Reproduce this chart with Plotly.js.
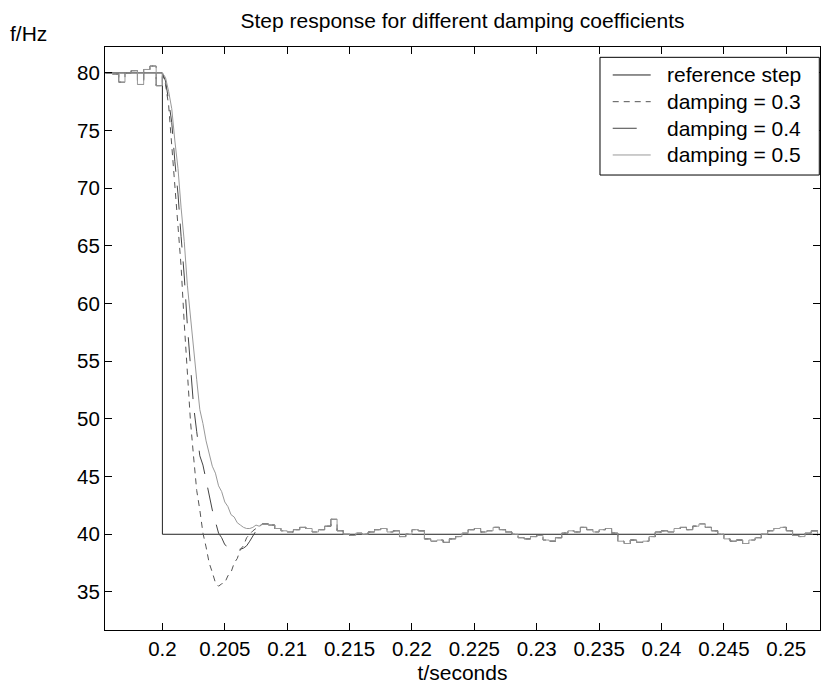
<!DOCTYPE html>
<html>
<head>
<meta charset="utf-8">
<script src="https://cdn.plot.ly/plotly-3.0.1.min.js"></script>
<style>
  html, body { margin: 0; padding: 0; background: #fff; }
  #chart { width: 821px; height: 690px; }
</style>
</head>
<body>
<div id="chart"></div>
<script>
// Reference step: 80 Hz until t = 0.2 s, then 40 Hz
const refT = [0.1954, 0.2, 0.2, 0.2527];
const refF = [80, 80, 40, 40];

// Frequency before the step, sampled every 0.5 ms from t = 0.1955 s
const preT0 = 0.1955, preDt = 0.0005;
const preF = [80.0, 79.9, 79.2, 80.0, 80.2, 79.0, 80.3, 80.6, 78.9, 80.0];

// Transient after the step, sampled every 0.25 ms from t = 0.2 s
const stepT0 = 0.2, stepDt = 0.00025;
const f03 = [80.0, 79.0, 77.2, 73.8, 70.7, 66.8, 63.2, 58.3, 54.2, 49.8, 46.7, 43.8, 42.1,
             40.1, 38.9, 37.5, 36.7, 35.8, 35.5, 35.7, 35.8, 36.4, 36.7, 37.5, 37.9, 38.7,
             39.0, 39.7, 40.0, 40.3, 40.5, 40.6, 40.9];
const f04 = [80.0, 79.3, 77.6, 75.7, 72.3, 69.5, 65.8, 62.4, 58.1, 54.8, 51.1, 48.9, 46.8,
             46.0, 44.6, 43.5, 42.1, 41.1, 40.1, 39.7, 39.1, 38.9, 38.8, 38.7, 38.7, 38.7,
             38.8, 39.0, 39.4, 39.9, 40.3, 40.5, 40.9];
const f05 = [80.0, 79.6, 78.4, 76.9, 74.1, 71.7, 68.3, 65.4, 61.6, 58.7, 55.6, 53.4, 50.8,
             49.6, 48.1, 47.1, 45.9, 45.3, 44.2, 43.7, 42.8, 42.4, 41.7, 41.5, 41.0, 40.8,
             40.6, 40.5, 40.5, 40.6, 40.8, 40.7, 40.9];

// Settled response, sampled every 0.5 ms from t = 0.208 s (same for all damping values)
const settleT0 = 0.208, settleDt = 0.0005;
const settleF = [40.9, 40.8, 40.5, 40.3, 40.2, 40.4, 40.6, 40.5, 40.2, 40.4,
                 40.7, 41.3, 40.3, 40.0, 39.9, 40.1, 40.0, 40.2, 40.4, 40.5,
                 40.2, 40.3, 39.8, 40.0, 40.4, 40.3, 39.6, 39.4, 39.5, 39.3,
                 39.6, 39.8, 40.1, 40.4, 40.5, 40.2, 40.3, 40.6, 40.4, 40.2,
                 40.0, 39.7, 39.6, 39.8, 39.9, 39.5, 39.4, 39.7, 40.1, 40.3,
                 40.2, 40.6, 40.4, 40.2, 40.4, 40.5, 40.1, 39.4, 39.2, 39.5,
                 39.3, 39.4, 39.8, 40.2, 40.3, 40.2, 40.5, 40.6, 40.4, 40.7,
                 40.9, 40.6, 40.3, 40.0, 39.6, 39.4, 39.5, 39.2, 39.5, 39.7,
                 40.0, 40.3, 40.5, 40.6, 40.3, 39.9, 39.8, 40.1, 40.3, 39.9];

const refName = 'reference step';
const seriesNames = ['damping = 0.3', 'damping = 0.4', 'damping = 0.5'];
const seriesData = [f03, f04, f05];
const refLine = { color: '#222222', width: 1 };
const seriesLines = [
  { color: '#555555', width: 1, dash: '6px,5px' },
  { color: '#444444', width: 1, dash: '24px,14px' },
  { color: '#999999', width: 1, dash: 'solid' }
];

const xTickVals = [0.2, 0.205, 0.21, 0.215, 0.22, 0.225, 0.23, 0.235, 0.24, 0.245, 0.25];
const xTickText = ['0.2', '0.205', '0.21', '0.215', '0.22', '0.225', '0.23', '0.235', '0.24', '0.245', '0.25'];
const yTickVals = [35, 40, 45, 50, 55, 60, 65, 70, 75, 80];

const FONT = 'Liberation Sans, Arial, Helvetica, sans-serif';
const TXT = { family: FONT, size: 21, color: '#000' };

const traces = [{
  type: 'scatter', mode: 'lines', name: refName,
  x: refT, y: refF, line: refLine
}];

// Each damping curve: pre-step samples (held), transient, settled samples (held)
seriesData.forEach((f, i) => {
  const parts = [
    [preT0, preDt, preF, 'hv'],
    [stepT0, stepDt, f, 'linear'],
    [settleT0, settleDt, settleF, 'hv']
  ];
  parts.forEach(([t0, dt, vals, shape]) => {
    traces.push({
      type: 'scatter', mode: 'lines', name: seriesNames[i],
      x0: t0, dx: dt, y: vals,
      line: Object.assign({ shape: shape }, seriesLines[i])
    });
  });
});

// Legend box in the upper right corner of the axes (paper coordinates)
const legX0 = 0.6923, legX1 = 0.9990, legY0 = 0.7804, legY1 = 0.9823;
const legSampleX0 = 0.7101, legSampleX1 = 0.7632, legTextX = 0.7832;
const legRowY = [0.9520, 0.9062, 0.8606, 0.8148];
const legNames = [refName].concat(seriesNames);
const legLines = [refLine].concat(seriesLines);

const shapes = [{
  type: 'rect', xref: 'paper', yref: 'paper', layer: 'above',
  x0: legX0, x1: legX1, y0: legY0, y1: legY1,
  fillcolor: '#fff', line: { color: '#000', width: 1 }
}];
const annotations = [{
  text: 'f/Hz', xref: 'paper', yref: 'paper',
  x: -0.1063, y: 1.024, xanchor: 'center', yanchor: 'middle',
  showarrow: false, font: TXT
}];
legNames.forEach((name, i) => {
  shapes.push({
    type: 'line', xref: 'paper', yref: 'paper', layer: 'above',
    x0: legSampleX0, x1: legSampleX1, y0: legRowY[i], y1: legRowY[i],
    line: legLines[i]
  });
  annotations.push({
    text: name, xref: 'paper', yref: 'paper',
    x: legTextX, y: legRowY[i], xanchor: 'left', yanchor: 'middle',
    showarrow: false, font: TXT
  });
});

const axisCommon = {
  showline: true, linecolor: '#000', linewidth: 1, mirror: 'ticks',
  ticks: 'inside', ticklen: 7, tickwidth: 1, tickcolor: '#000',
  showgrid: false, zeroline: false,
  tickfont: { family: FONT, size: 20.5, color: '#000' }
};

const layout = {
  width: 821, height: 690,
  margin: { l: 105, r: 1, t: 47, b: 60 },
  paper_bgcolor: '#fff', plot_bgcolor: '#fff',
  font: TXT,
  title: {
    text: 'Step response for different damping coefficients',
    font: TXT,
    x: 0.5, xref: 'paper', xanchor: 'center',
    y: 0.9696, yref: 'container', yanchor: 'middle'
  },
  xaxis: Object.assign({}, axisCommon, {
    range: [0.1954, 0.2527],
    tickmode: 'array', tickvals: xTickVals, ticktext: xTickText,
    title: { text: 't/seconds', font: TXT, standoff: 6 }
  }),
  yaxis: Object.assign({}, axisCommon, {
    range: [31.7, 82.25],
    tickmode: 'array', tickvals: yTickVals
  }),
  shapes: shapes,
  annotations: annotations,
  showlegend: false,
  hovermode: false
};

Plotly.newPlot('chart', traces, layout, { staticPlot: true, displayModeBar: false });
</script>
</body>
</html>
